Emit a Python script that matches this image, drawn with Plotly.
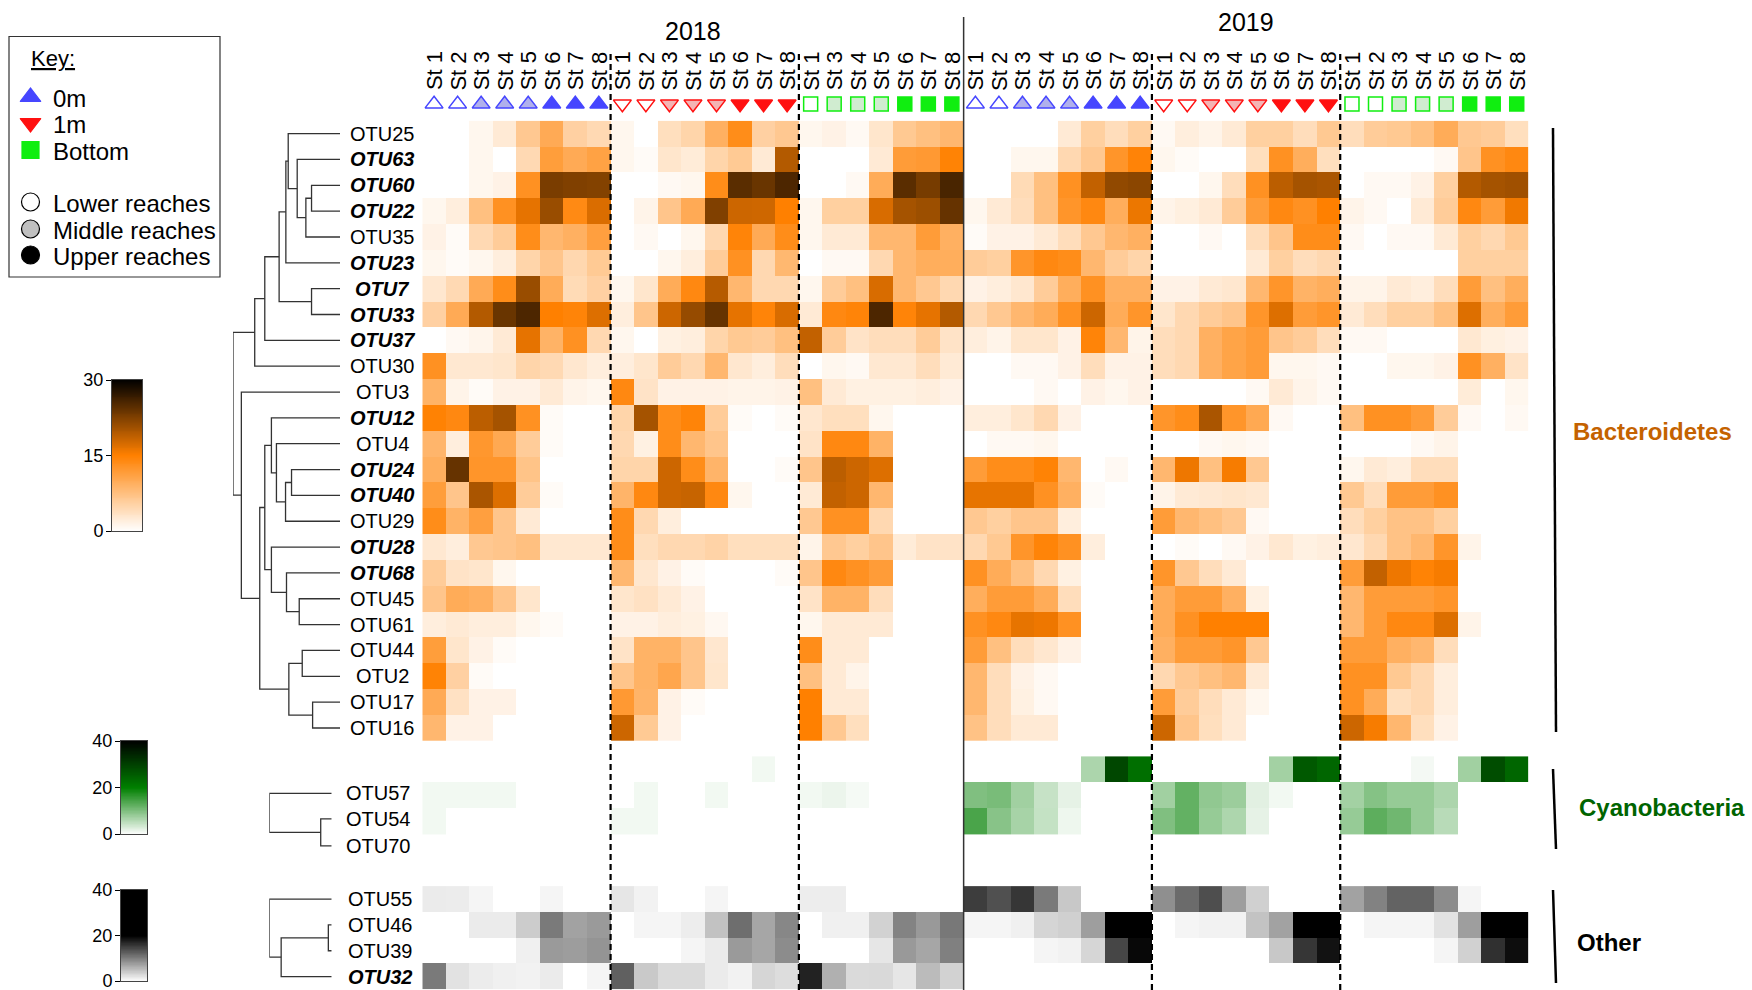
import plotly.graph_objects as go
import numpy as np

W, H = 1752, 990

# ---------------------------------------------------------------- columns
# (year, depth, stations sampled)
blocks = [
    ("2018", "0m", [1, 2, 3, 4, 5, 6, 7, 8]),
    ("2018", "1m", [1, 2, 3, 4, 5, 6, 7, 8]),
    ("2018", "Bottom", [1, 3, 4, 5, 6, 7, 8]),
    ("2019", "0m", [1, 2, 3, 4, 5, 6, 7, 8]),
    ("2019", "1m", [1, 2, 3, 4, 5, 6, 7, 8]),
    ("2019", "Bottom", [1, 2, 3, 4, 5, 6, 7, 8]),
]

# ---------------------------------------------------------------- rows
bact_otus = ["OTU25", "OTU63", "OTU60", "OTU22", "OTU35", "OTU23", "OTU7", "OTU33",
             "OTU37", "OTU30", "OTU3", "OTU12", "OTU4", "OTU24", "OTU40", "OTU29",
             "OTU28", "OTU68", "OTU45", "OTU61", "OTU44", "OTU2", "OTU17", "OTU16"]
cyano_otus = ["OTU57", "OTU54", "OTU70"]
other_otus = ["OTU55", "OTU46", "OTU39", "OTU32"]
highlighted = {"OTU63", "OTU60", "OTU22", "OTU23", "OTU7", "OTU33", "OTU37", "OTU12",
               "OTU24", "OTU40", "OTU28", "OTU68", "OTU32"}

# relative abundance (%), columns follow `blocks`
bacteroidetes = [
    [0, 0, 1, 2.5, 6.5, 10, 5.5, 4.5,  1, 0, 3.8, 5, 9.3, 13.5, 5.5, 6.5,  1, 1.5, 0.7, 3, 6.4, 7.5, 8.5,
     0, 0, 0, 0, 2.5, 5.6, 4, 5.6,  0.7, 2, 1.3, 2.5, 5.6, 5.6, 4, 6.4,  4, 6, 6.4, 7.5, 9.8, 6.5, 6, 3.8],
    [0, 0, 1, 0, 4.5, 11.5, 10, 11,  1, 0.5, 3, 2.3, 5, 6.3, 2.5, 19.5,  0, 0, 0, 2.5, 11.7, 12, 14.7,
     0, 0, 1, 1, 4.6, 6.5, 12.5, 14.6,  1, 0.5, 0, 0, 3.8, 13, 9.6, 3.8,  0, 0, 0, 0, 0.7, 6.8, 13, 14],
    [0, 0, 1, 1.5, 13, 22.8, 22.5, 22.3,  0, 0, 0.7, 1, 13.5, 24.7, 23.8, 25.5,  0, 0, 0.7, 9.8, 24.7, 23, 25.7,
     0, 0, 4.3, 7.5, 13, 18.6, 21.5, 21.8,  0, 0, 1, 4, 13, 19, 20.3, 20,  0, 0.7, 0.7, 1.5, 5.6, 19.5, 20.3, 20.6],
    [1, 2, 7.5, 13, 16.5, 21, 13.8, 17.2,  0, 1.3, 6.8, 10, 22.5, 18, 17.9, 15,  1, 5.6, 5.6, 17.3, 20.3, 20.8, 24,
     1, 2.5, 4, 7.5, 12.5, 14, 9.6, 16.1,  1.3, 1.8, 2.5, 6, 11.7, 14, 13, 15,  1.3, 0.7, 0, 2.5, 6, 14, 11.7, 15.8],
    [1.5, 0.5, 4.5, 6, 13.5, 8.5, 9.3, 11.3,  0, 0.7, 0, 1, 4.6, 14.5, 10, 13.5,  1, 2.5, 2.5, 8.5, 8.5, 11.7, 9.3,
     0.5, 1.5, 1.5, 2.5, 4, 6.5, 8.5, 9.3,  0, 0, 0.7, 0, 4, 6.8, 13.5, 13.5,  0.7, 0, 0.7, 0.7, 2.5, 5.6, 4.6, 6.4],
    [1, 0.5, 1, 2, 5, 6.8, 4.7, 6.3,  0, 0, 1, 2, 6, 13, 4.6, 8.4,  0, 0.7, 0.7, 4.6, 8.5, 9.6, 9.6,
     6, 5.6, 12.5, 14, 13.5, 8.5, 6, 5,  0, 0, 0, 0, 2.5, 5.6, 4, 4.6,  0, 0, 0, 0, 0, 5.6, 5.6, 5.6],
    [2.8, 4.5, 10, 13.5, 21, 9.8, 4.3, 5.5,  1, 3, 9.8, 14, 19.3, 8.5, 4.6, 4.6,  1, 6, 7.5, 17.3, 8.5, 6.5, 4.6,
     1.5, 2, 2.8, 6, 9.6, 13, 9.3, 9.3,  1.5, 1.5, 2.5, 2.8, 8.5, 12.5, 9, 9.6,  1.3, 1.3, 2.5, 2, 4, 11.7, 7.5, 9.6],
    [5.5, 10, 19.5, 23.8, 25.5, 15, 14.5, 17,  2, 6.8, 18, 21.2, 24, 16.5, 14.5, 17.3,  2.5, 14, 14.5, 25.5, 14.5, 16.5, 19.5,
     4.6, 6.5, 8.5, 9.8, 13, 18, 9.8, 12.5,  3, 4.6, 6, 6.8, 12.5, 17, 11.7, 12.5,  2.5, 4, 5.6, 5.6, 7.5, 17, 9.6, 11.7],
    [0, 0.7, 1.2, 2.5, 16.5, 9, 13, 4.6,  1, 0, 1.7, 2, 5, 6.4, 6, 7.5,  18.6, 6, 3.3, 4, 4, 6, 3.3,
     2, 1.3, 3, 3, 1.5, 14.5, 8.5, 1.3,  4, 4.6, 9.3, 10.8, 11.7, 6.8, 6, 4,  0.7, 0.7, 0, 0, 0, 2.7, 1.8, 1.5],
    [13, 2.7, 2.7, 3, 5, 4.5, 2.8, 2,  2, 3, 6, 4.6, 8.5, 2.8, 2, 4,  0, 1, 0.7, 2.7, 2.7, 4, 2.5,
     0, 0, 0.7, 0.7, 1.5, 4, 1.5, 1.5,  4, 4.6, 9.3, 10.8, 11.7, 1, 1, 0.7,  0, 0, 1, 1, 1.5, 13, 9.3, 3.3],
    [9, 1.3, 0.5, 1.5, 1.5, 2.5, 1.3, 1,  14, 3.3, 1.5, 1.5, 1.5, 1.3, 1.3, 1.5,  7.5, 2.5, 1.7, 1.7, 1.7, 2, 1.5,
     0, 0, 0, 0.7, 0, 1.5, 1, 1.5,  0, 0, 0, 0, 0.7, 2.5, 1.3, 0.7,  0, 0, 0, 0, 0, 2.3, 0, 1],
    [14.8, 14, 19, 20.3, 13, 0.5, 0, 0,  5, 20.3, 13.5, 14.5, 6, 0.5, 0, 0.5,  2.8, 3.8, 3.8, 1, 0, 0, 0,
     2, 2, 3, 4.6, 1.5, 0, 0, 0,  12.5, 13.5, 20, 12.5, 10.2, 0.7, 0, 0,  7.5, 13, 13, 11.7, 6, 0.7, 0, 0.7],
    [8.7, 2, 12.3, 10.2, 6, 0.5, 0, 0,  4.6, 1.7, 13.5, 8.5, 6.8, 0, 0, 0,  3.3, 14, 14, 9, 0, 0, 0,
     0, 0.7, 0.7, 1, 0, 0, 0, 0,  0, 0, 0.7, 1, 0.7, 0, 0, 0,  0, 0, 0, 0.7, 1.3, 0, 0, 0],
    [9.5, 24, 12.5, 12.5, 7, 0, 0, 0,  5, 5, 18, 13.5, 8.8, 0, 0, 0.5,  6.8, 19, 18, 17, 0, 0, 0,
     11.7, 13.5, 13.5, 14.7, 8.5, 0, 0.7, 0,  8.5, 16, 7.5, 15.5, 6.5, 0, 0, 0,  1, 2.5, 2, 4, 4, 0, 0, 0],
    [11.5, 6.8, 20, 17, 6, 0.5, 0, 0,  8.8, 14, 18, 18.3, 14, 1, 0, 0,  2.5, 18.6, 18, 8.5, 0, 0, 0,
     16.4, 16.4, 16.4, 13, 9.3, 0.5, 0, 0,  1.3, 2.5, 2.7, 3, 2.7, 0, 0, 0,  6.4, 4, 11.7, 11.7, 13, 0, 0, 0],
    [13.5, 9, 11.3, 6.8, 2.5, 0, 0, 0,  13.5, 4.6, 2, 0, 0, 0, 0, 0,  6.5, 13, 13, 4.6, 0, 0, 0,
     6.5, 5.6, 6.8, 6.8, 2, 0, 0, 0,  11.7, 8.5, 7.5, 6.5, 0.7, 0, 0, 0,  4, 5.6, 7.2, 7.2, 5.6, 0, 0, 0],
    [2.7, 2, 6.5, 6.8, 7.5, 2.7, 2.7, 2.7,  13.5, 3.8, 4.6, 4.6, 5.2, 3.8, 3.8, 3.8,  1.3, 6.5, 5.6, 6.8, 2.3, 3.3, 3.3,
     4.6, 6.4, 12.5, 14.5, 13, 2, 0, 0,  0, 0.5, 0, 0.7, 1.5, 2.7, 1.7, 2,  2.8, 4.6, 7.2, 8.5, 12.5, 1.3, 0, 0],
    [6, 3.3, 3, 1, 0, 0, 0, 0,  8.5, 2.8, 1.5, 0.5, 0, 0, 0, 0.5,  6.8, 14, 13, 11.7, 0, 0, 0,
     13, 9.8, 7.5, 4.6, 1.7, 0, 0, 0,  12.5, 6.5, 4, 2.5, 0, 0, 0, 0,  11.7, 18.6, 16, 14.7, 15.5, 0, 0, 0],
    [6.8, 9.8, 9.3, 6.8, 3, 0, 0, 0,  3, 3.5, 2.5, 1.5, 0, 0, 0, 0,  3.3, 9, 9, 4, 0, 0, 0,
     9.6, 11.7, 11.7, 9.8, 4, 0, 0, 0,  9.8, 11.7, 11.7, 9.3, 1.7, 0, 0, 0,  8.5, 11.7, 11.7, 11.7, 12.5, 0, 0, 0],
    [2, 2.5, 2, 2, 1, 0.5, 0, 0,  1.5, 1.5, 2, 1.7, 0.8, 0, 0, 0,  1, 2.5, 2.5, 2.5, 0, 0, 0,
     13, 14, 16.4, 16, 13, 0, 0, 0,  9.8, 13, 15, 15, 15, 0, 0, 0,  8.5, 11.7, 14, 14, 17, 1.3, 0, 0],
    [11.5, 3, 1.5, 0.5, 0, 0, 0, 0,  3.3, 9, 9, 6.8, 2.8, 0, 0, 0,  13.5, 2.5, 2.5, 0, 0, 0, 0,
     11.7, 7.5, 4, 2.8, 1.5, 0, 0, 0,  9.3, 11.7, 11.7, 12.5, 6.5, 0, 0, 0,  11.7, 11.7, 9.3, 8.5, 4, 0, 0, 0],
    [14.7, 5.5, 0.5, 0, 0, 0, 0, 0,  6.8, 9, 10.5, 6.8, 3, 0, 0, 0,  7.5, 2.5, 1.3, 0, 0, 0, 0,
     8.5, 4, 1.5, 0.7, 0, 0, 0, 0,  4.6, 6.5, 7.5, 8.5, 2.5, 0, 0, 0,  13, 13, 6.4, 4.6, 2, 0, 0, 0],
    [10, 3.5, 1.5, 1.5, 0, 0, 0, 0,  12, 8.8, 1.5, 0.5, 0, 0, 0, 0,  15, 2.5, 2.5, 0, 0, 0, 0,
     8.5, 4, 1.7, 0.7, 0, 0, 0, 0,  11.7, 6, 4, 2.5, 1, 0, 0, 0,  13, 9.8, 3.8, 4.6, 2, 0, 0, 0],
    [8.5, 1.5, 1.5, 0, 0, 0, 0, 0,  18, 6.3, 1.5, 0, 0, 0, 0, 0,  15, 6.5, 3.8, 0, 0, 0, 0,
     7.2, 4, 2.5, 2.5, 0, 0, 0, 0,  18, 6.8, 3.8, 2.5, 0, 0, 0, 0,  18, 15.5, 8.5, 3.8, 1.5, 0, 0, 0],
]

cyanobacteria = [
    [0, 0, 0, 0, 0, 0, 0, 0,  0, 0, 0, 0, 0, 0, 1, 0,  0, 0, 0, 0, 0, 0, 0,
     0, 0, 0, 0, 0, 6.5, 28.8, 22.5,  0, 0, 0, 0, 0, 7.2, 26, 24,  0, 0, 0, 0.9, 0, 7.4, 27.8, 24],
    [1, 1, 1, 1, 0, 0, 0, 0,  0, 1, 0, 0, 1, 0, 0, 0,  1, 1.5, 0.8, 0, 0, 0, 0,
     10, 10.5, 7.4, 4.5, 2, 0, 0, 0,  7.4, 12.2, 8.6, 7.8, 2.3, 1, 0, 0,  7.2, 9.6, 8.2, 8.2, 6.5, 0, 0, 0],
    [1, 0, 0, 0, 0, 0, 0, 0,  1, 1, 0, 0, 0, 0, 0, 0,  0, 0, 0, 0, 0, 0, 0,
     14.2, 9.3, 6.9, 4.6, 1.3, 0, 0, 0,  10, 12.2, 8.2, 6.4, 2, 0, 0, 0,  8.2, 12.7, 11.2, 8.2, 5.6, 0, 0, 0],
]

other = [
    [1.6, 1.5, 0.8, 0, 0, 0.8, 0, 0,  2, 1, 0, 0, 0.8, 0, 0, 0,  1.4, 1.4, 0, 0, 0, 0, 0,
     15.2, 13.7, 15.8, 10.4, 4.3, 0, 0, 0,  8.8, 11.6, 13.9, 7.6, 3.7, 0, 0, 0,  7.3, 9.8, 12.2, 12.2, 9, 0.8, 0, 0],
    [0, 0, 1.6, 1.6, 4, 10.4, 7.3, 7.9,  0, 0.8, 0.8, 1.4, 4.8, 11.4, 7, 9.4,  0, 1.2, 1.2, 3.5, 9.7, 8, 10.6,
     0.8, 0.8, 1.2, 3.3, 3.7, 7.6, 32, 32,  0, 0.8, 1, 1, 4.7, 7.3, 33, 32,  0, 0.8, 0.8, 0.8, 2.3, 7.6, 35, 33],
    [0, 0, 0, 0, 1.2, 7.9, 7.7, 8.4,  0, 0, 0, 0.8, 1.6, 7.9, 7, 9,  0, 0, 0, 2, 8, 7, 10,
     0, 0, 0, 0.8, 1, 3.2, 14.5, 19.4,  0, 0, 0, 0, 0, 4.3, 15.8, 18.6,  0, 0, 0, 0, 0.8, 3.6, 16.2, 19],
    [10.4, 2.3, 1.5, 1.2, 1, 1.6, 0, 0.8,  12.5, 4.2, 2.9, 2.9, 1.6, 1, 3.2, 2.7,  17.3, 6.2, 2.9, 3, 2, 5.3, 3.5,
     0, 0, 0, 0, 0, 0, 0, 0,  0, 0, 0, 0, 0, 0, 0, 0,  0, 0, 0, 0, 0, 0, 0, 0],
]

# ---------------------------------------------------------------- clustering
# (node, left child, right child, merge height)
bact_tree = [
    ("a", "OTU60", "OTU22", 0.266), ("b", "a", "OTU35", 0.319), ("c", "OTU63", "b", 0.40),
    ("d", "OTU25", "c", 0.484), ("e", "d", "OTU23", 0.506), ("f", "OTU7", "OTU33", 0.266),
    ("g", "e", "f", 0.569), ("h", "g", "OTU37", 0.703), ("i", "h", "OTU30", 0.797),
    ("j", "OTU24", "OTU40", 0.453), ("k", "j", "OTU29", 0.509), ("l", "OTU4", "k", 0.594),
    ("m", "OTU12", "l", 0.641), ("n", "OTU45", "OTU61", 0.381), ("o", "OTU68", "n", 0.50),
    ("p", "OTU28", "o", 0.641), ("q", "m", "p", 0.703), ("r", "OTU44", "OTU2", 0.353),
    ("s", "OTU17", "OTU16", 0.256), ("t", "r", "s", 0.478), ("u", "q", "t", 0.75),
    ("v", "OTU3", "u", 0.922), ("root", "i", "v", 1.0),
]
cyano_tree = [("a", "OTU54", "OTU70", 0.176), ("root", "OTU57", "a", 1.0)]
other_tree = [("a", "OTU46", "OTU39", 0.054), ("b", "a", "OTU32", 0.81), ("root", "OTU55", "b", 1.0)]

# ---------------------------------------------------------------- styling
ORANGE_SCALE = [[0, "#FFFFFF"], [0.5, "#FF8000"], [1, "#000000"]]
GREEN_SCALE = [[0, "#FFFFFF"], [0.5, "#007F00"], [1, "#000000"]]
GREY_SCALE = [[0, "#FFFFFF"], [0.5, "#000000"], [1, "#000000"]]
FONT = "Liberation Sans, Arial, sans-serif"

depth_symbol = {"0m": "triangle-up", "1m": "triangle-down", "Bottom": "square"}
depth_color = {"0m": "#4646FF", "1m": "#FF1010", "Bottom": "#10EE10"}
depth_light = {"0m": "#B0B0EC", "1m": "#F4B4B4", "Bottom": "#D0ECD0"}


def px(x):
    return x / W


def py(y):
    return 1 - y / H


# column table
col_station, col_depth, col_year = [], [], []
for year, depth, stations in blocks:
    for s in stations:
        col_station.append(s)
        col_depth.append(depth)
        col_year.append(year)
n_cols = len(col_station)
col_idx = list(range(n_cols))

# row positions (row units, top = 0)
bact_y = [0.5 + i for i in range(len(bact_otus))]
cyano_y = [25.1 + i for i in range(len(cyano_otus))]
cyano_label_y = [26.03, 27.02, 28.06]
other_y = [30.12 + i for i in range(len(other_otus))]
Y_MAX = 33.62

fig = go.Figure()

for z, ys, scale, zmax in [(bacteroidetes, bact_y, ORANGE_SCALE, 30),
                          (cyanobacteria, cyano_y, GREEN_SCALE, 40),
                          (other, other_y, GREY_SCALE, 40)]:
    fig.add_trace(go.Heatmap(z=z, x=col_idx, y=ys, colorscale=scale, zmin=0, zmax=zmax,
                             showscale=False, xaxis="x", yaxis="y", hoverinfo="z"))


# dendrograms
def dendro_lines(tree, leaf_y):
    pos = dict(leaf_y)
    hgt = {k: 0.0 for k in leaf_y}
    xs, ys = [], []
    for node, left, right, h in tree:
        xs += [hgt[left], h, h, hgt[right], None]
        ys += [pos[left], pos[left], pos[right], pos[right], None]
        pos[node] = (pos[left] + pos[right]) / 2
        hgt[node] = h
    return xs, ys


for tree, names, ys, xa in [(bact_tree, bact_otus, bact_y, "x2"),
                            (cyano_tree, cyano_otus, cyano_label_y, "x3"),
                            (other_tree, other_otus, other_y, "x3")]:
    dx, dy = dendro_lines(tree, dict(zip(names, ys)))
    fig.add_trace(go.Scatter(x=dx, y=dy, mode="lines", xaxis=xa, yaxis="y",
                             line=dict(color="#333333", width=1.3), hoverinfo="skip"))

# station markers above the columns
for depth in ["0m", "1m", "Bottom"]:
    idx = [i for i in col_idx if col_depth[i] == depth]
    fills = []
    for i in idx:
        s = col_station[i]
        fills.append("#FFFFFF" if s <= 2 else (depth_light[depth] if s <= 5 else depth_color[depth]))
    fig.add_trace(go.Scatter(
        x=idx, y=[104] * len(idx), mode="markers", xaxis="x", yaxis="y4",
        marker=dict(symbol=depth_symbol[depth], size=15.5 if depth != "Bottom" else 14,
                    color=fills, line=dict(color=depth_color[depth], width=1.5)),
        hoverinfo="skip"))

annotations = []
for i in col_idx:
    annotations.append(dict(x=i, y=71, xref="x", yref="y4", text=f"St {col_station[i]}",
                            textangle=-90, showarrow=False, xanchor="center", yanchor="middle",
                            font=dict(family=FONT, size=22, color="#000")))
for year, yy in [("2018", 31), ("2019", 22)]:
    cols = [i for i in col_idx if col_year[i] == year]
    annotations.append(dict(x=(cols[0] + cols[-1]) / 2, y=yy, xref="x", yref="y4", text=year,
                            showarrow=False, xanchor="center", yanchor="middle",
                            font=dict(family=FONT, size=25, color="#000")))


def otu_text(name):
    return f"<b><i>{name}</i></b>" if name in highlighted else name


for names, ys, cx in [(bact_otus, bact_y, 382), (cyano_otus, cyano_label_y, 378),
                      (other_otus, other_y, 380)]:
    for n, yv in zip(names, ys):
        annotations.append(dict(x=px(cx), y=yv, xref="paper", yref="y", text=otu_text(n),
                                showarrow=False, xanchor="center", yanchor="middle",
                                font=dict(family=FONT, size=20, color="#000")))

# group labels on the right
for text, color, ymid, xc in [("Bacteroidetes", "#C46200", 432, 1652),
                              ("Cyanobacteria", "#006400", 807, 1662),
                              ("Other", "#000000", 942, 1609)]:
    annotations.append(dict(x=px(xc), y=py(ymid), xref="paper", yref="paper", text=f"<b>{text}</b>",
                            showarrow=False, xanchor="center", yanchor="middle",
                            font=dict(family=FONT, size=24, color=color)))

shapes = []
# block separators
block_edges = []
start = 0
for year, depth, stations in blocks:
    start += len(stations)
    block_edges.append(start - 0.5)
for k, e in enumerate(block_edges[:-1]):
    if k == 2:
        shapes.append(dict(type="line", xref="x", yref="paper", x0=e, x1=e, y0=0, y1=py(17),
                           line=dict(color="#333333", width=1.5)))
    else:
        shapes.append(dict(type="line", xref="x", yref="paper", x0=e, x1=e, y0=0, y1=py(50),
                           line=dict(color="#000000", width=2.2, dash="6px,4px")))
# group brackets
for y0, y1 in [(128, 732), (769, 849), (890, 983)]:
    shapes.append(dict(type="line", xref="paper", yref="paper", x0=px(1553), x1=px(1556),
                       y0=py(y0), y1=py(y1), line=dict(color="#000", width=2.5)))

# key box
shapes.append(dict(type="rect", xref="paper", yref="paper", x0=px(9), x1=px(220), y0=py(277),
                   y1=py(36.5), line=dict(color="#333333", width=1.2)))
annotations.append(dict(x=px(29), y=py(58), xref="paper", yref="paper", text="<u>Key:</u>",
                        xanchor="left", yanchor="middle", showarrow=False,
                        font=dict(family=FONT, size=22, color="#000")))
key_items = [
    ("0m", 97, "triangle-up", depth_color["0m"], depth_color["0m"]),
    ("1m", 123, "triangle-down", depth_color["1m"], depth_color["1m"]),
    ("Bottom", 150, "square", depth_color["Bottom"], depth_color["Bottom"]),
    ("Lower reaches", 202, "circle", "#FFFFFF", "#000000"),
    ("Middle reaches", 229, "circle", "#C0C0C0", "#000000"),
    ("Upper reaches", 255, "circle", "#000000", "#000000"),
]
for label, ky, sym, fill, edge in key_items:
    fig.add_trace(go.Scatter(x=[30.5], y=[ky], mode="markers", xaxis="x8", yaxis="y8",
                             marker=dict(symbol=sym, size=18 if sym != "square" else 17,
                                         color=fill, line=dict(color=edge, width=1.2)),
                             hoverinfo="skip"))
    annotations.append(dict(x=px(51), y=py(ky + 1.5), xref="paper", yref="paper", text=label,
                            xanchor="left", yanchor="middle", showarrow=False,
                            font=dict(family=FONT, size=24, color="#000")))

# colour keys
colour_keys = [
    ("x5", "y5", ORANGE_SCALE, 30, [0, 15, 30], (112, 142), (380, 531)),
    ("x6", "y6", GREEN_SCALE, 40, [0, 20, 40], (121, 147), (741, 834)),
    ("x7", "y7", GREY_SCALE, 40, [0, 20, 40], (121, 147), (890, 981)),
]
layout_axes = {}
for xa, ya, scale, zmax, ticks, (x0, x1), (y0, y1) in colour_keys:
    grad = np.linspace(0, zmax, 161)
    fig.add_trace(go.Heatmap(z=[[v] for v in grad], x=[0], y=grad, colorscale=scale, zmin=0, zmax=zmax,
                             showscale=False, xaxis=xa, yaxis=ya, hoverinfo="skip"))
    n = xa[1:]
    layout_axes[f"xaxis{n}"] = dict(domain=[px(x0), px(x1)], range=[-0.5, 0.5], anchor=ya,
                                    showticklabels=False, ticks="", showgrid=False, zeroline=False,
                                    automargin=False,
                                    showline=True, linecolor="#444", linewidth=1, mirror=True)
    layout_axes[f"yaxis{n}"] = dict(domain=[py(y1), py(y0)], range=[0, zmax], anchor=xa,
                                    tickvals=ticks, ticks="outside", ticklen=5, tickcolor="#000",
                                    tickfont=dict(family=FONT, size=18, color="#000"),
                                    ticklabeloverflow="allow", ticklabelstandoff=-1,
                                    automargin=False,
                                    showgrid=False, zeroline=False, showline=True, linecolor="#444",
                                    linewidth=1, mirror=True)

hidden = dict(visible=False, automargin=False)
fig.update_layout(
    width=W, height=H, margin=dict(l=0, r=0, t=0, b=0, pad=0, autoexpand=False),
    paper_bgcolor="white", plot_bgcolor="rgba(0,0,0,0)", showlegend=False,
    xaxis=dict(domain=[px(422.3), px(1528.5)], range=[-0.5, n_cols - 0.5], anchor="y", **hidden),
    yaxis=dict(domain=[py(989.5), py(120.7)], range=[Y_MAX, 0], anchor="x", **hidden),
    xaxis2=dict(domain=[px(233), px(340)], range=[1.0, 0], anchor="y", **hidden),
    xaxis3=dict(domain=[px(269.3), px(331.7)], range=[1.0, 0], anchor="y", **hidden),
    yaxis4=dict(domain=[py(116), 1], range=[116, 0], anchor="x", **hidden),
    xaxis8=dict(domain=[0, 1], range=[0, W], anchor="y8", **hidden),
    yaxis8=dict(domain=[0, 1], range=[H, 0], anchor="x8", **hidden),
    annotations=annotations, shapes=shapes,
    **layout_axes,
)

fig.write_html("out.html")
